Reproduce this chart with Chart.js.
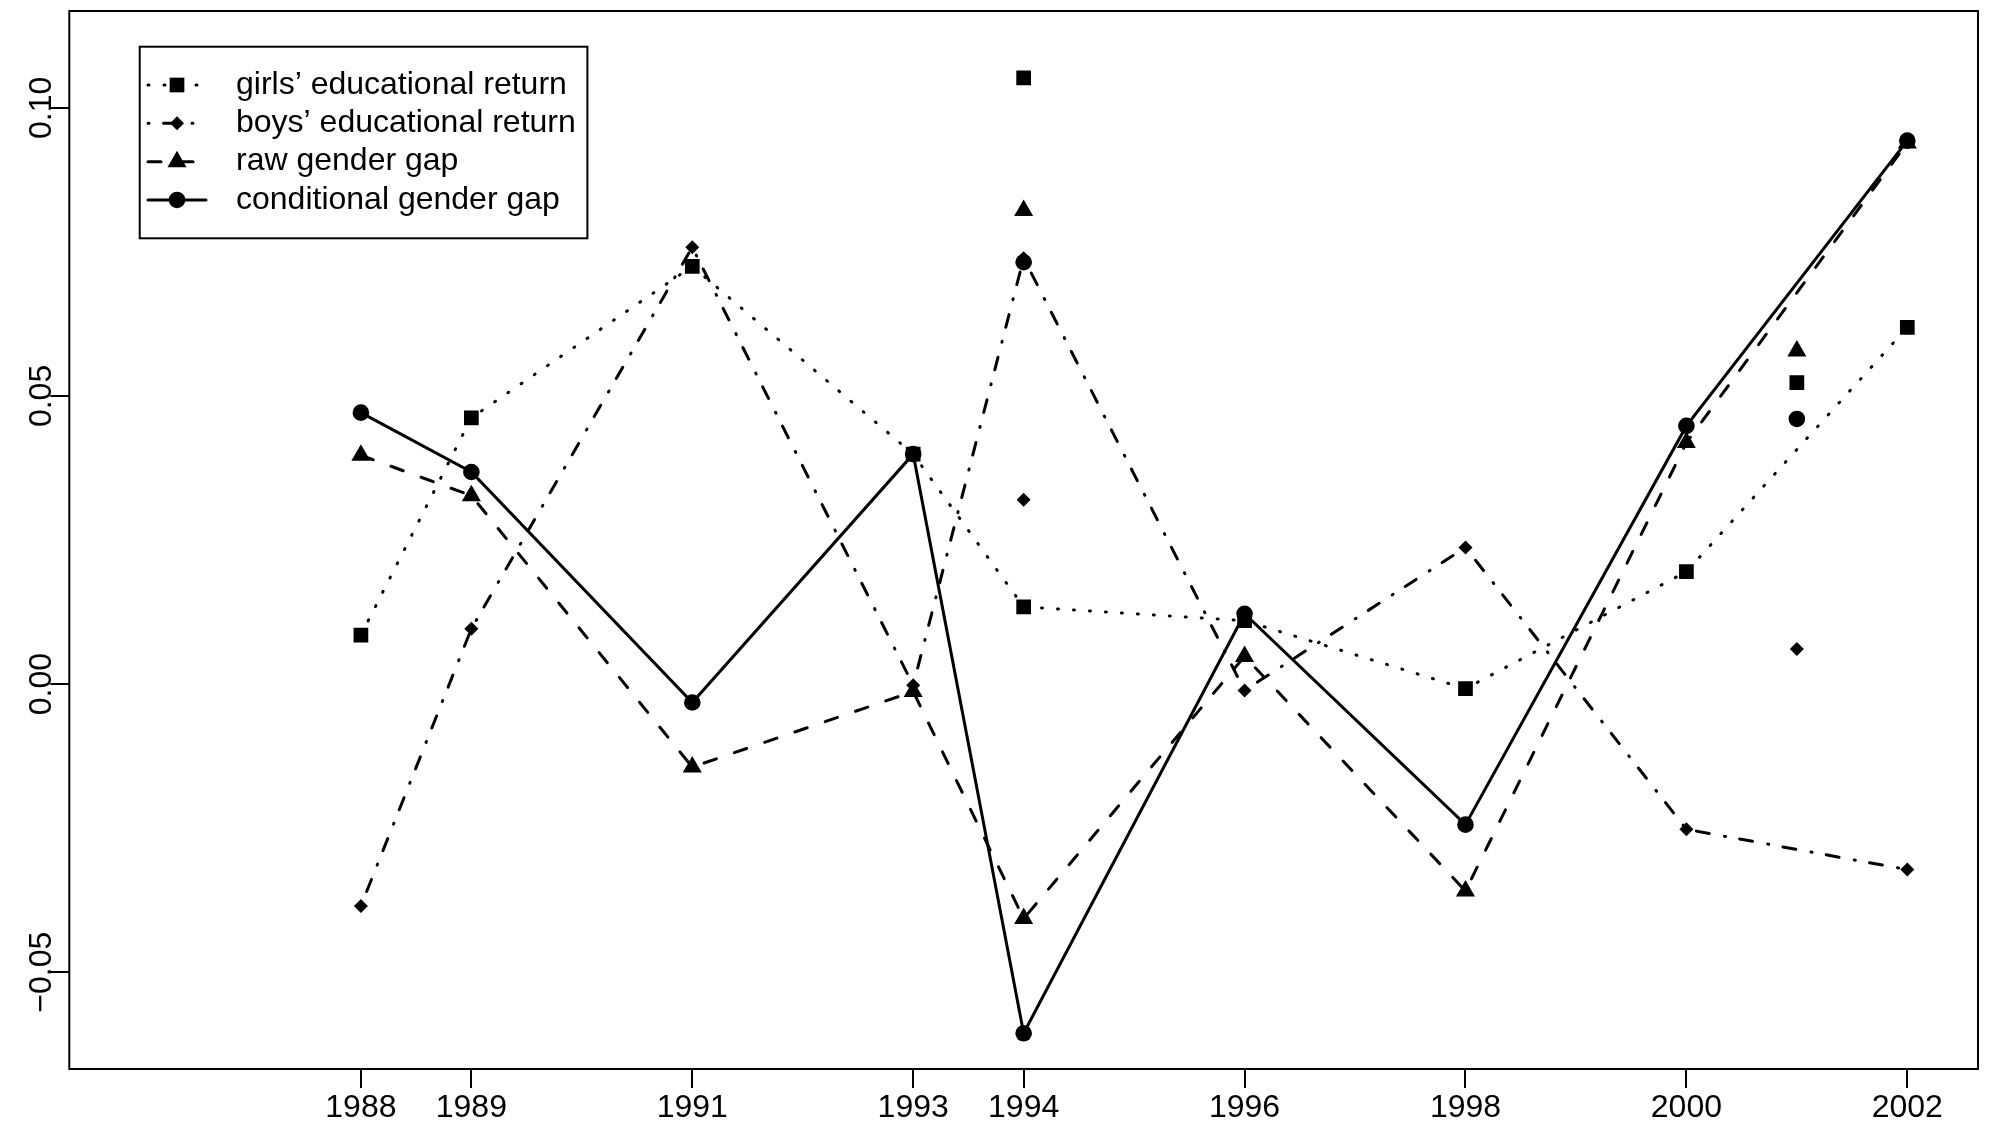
<!DOCTYPE html>
<html>
<head>
<meta charset="utf-8">
<title>Educational returns and gender gap</title>
<script src="https://cdn.jsdelivr.net/npm/chart.js@4.4.1/dist/chart.umd.min.js"></script>
<style>
  html, body { margin: 0; padding: 0; background: #fff; }
  canvas { display: block; }
</style>
</head>
<body>
<canvas id="chart" width="1989" height="1128"></canvas>
<script>
// years joined by the lines, and the years that only get a loose marker
const lineYears = [1988, 1989, 1991, 1993, 1994, 1996, 1998, 2000, 2002];
const extraYears = [1994, 2001];

const girls = [0.0085, 0.0462, 0.0725, 0.0399, 0.0134, 0.0110, -0.0008, 0.0195, 0.0619];
const girlsExtra = [0.1052, 0.0523];
const boys = [-0.0385, 0.0096, 0.0758, -0.0002, 0.0739, -0.0011, 0.0237, -0.0252, -0.0322];
const boysExtra = [0.0320, 0.0061];
const rawGap = [0.0397, 0.0327, -0.0144, -0.0013, -0.0407, 0.0048, -0.0359, 0.0419, 0.0939];
const rawGapExtra = [0.0822, 0.0578];
const condGap = [0.0471, 0.0368, -0.0032, 0.0399, -0.0606, 0.0122, -0.0244, 0.0448, 0.0943];
const condGapExtra = [0.0732, 0.0460];

const seriesNames = ['girls\u2019 educational return', 'boys\u2019 educational return', 'raw gender gap', 'conditional gender gap'];

const xTicks = [1988, 1989, 1991, 1993, 1994, 1996, 1998, 2000, 2002];
const yTicks = [-0.05, 0, 0.05, 0.10];
const yTickLabels = ['\u22120.05', '0.00', '0.05', '0.10'];

const FONT = '"Liberation Sans", Arial, Helvetica, sans-serif';
const FONT_SIZE = 32;

// R line types (dotted, dotdash, dashed, solid) with round caps
const styles = [
    { dash: [1, 15], point: 'rect', radius: 10.4 },
    { dash: [1, 14.5, 13, 15.5], point: 'rectRot', radius: 7 },
    { dash: [13, 19], point: 'triangle', radius: 11 },
    { dash: [], point: 'circle', radius: 8.3 }
];

const lineSeries = [girls, boys, rawGap, condGap];
const extraSeries = [girlsExtra, boysExtra, rawGapExtra, condGapExtra];

const toPoints = (xs, ys) => xs.map((x, i) => ({ x: x, y: ys[i] }));

const datasets = [];
lineSeries.forEach((vals, i) => {
    const s = styles[i];
    datasets.push({
        label: seriesNames[i],
        data: toPoints(lineYears, vals),
        showLine: true,
        borderColor: '#000',
        borderWidth: 3,
        borderDash: s.dash,
        borderCapStyle: 'round',
        tension: 0,
        pointStyle: s.point,
        pointRadius: s.radius,
        pointBackgroundColor: '#000',
        pointBorderWidth: 0
    });
    datasets.push({
        label: seriesNames[i] + ' (extra)',
        data: toPoints(extraYears, extraSeries[i]),
        showLine: false,
        pointStyle: s.point,
        pointRadius: s.radius,
        pointBackgroundColor: '#000',
        pointBorderWidth: 0
    });
});

function drawMarker(ctx, style, r, x, y) {
    ctx.beginPath();
    if (style === 'rect') {
        const s = r * Math.SQRT1_2;
        ctx.rect(x - s, y - s, 2 * s, 2 * s);
    } else if (style === 'rectRot') {
        ctx.moveTo(x, y - r);
        ctx.lineTo(x + r, y);
        ctx.lineTo(x, y + r);
        ctx.lineTo(x - r, y);
        ctx.closePath();
    } else if (style === 'triangle') {
        ctx.moveTo(x, y - r);
        ctx.lineTo(x + r * 0.866, y + r * 0.5);
        ctx.lineTo(x - r * 0.866, y + r * 0.5);
        ctx.closePath();
    } else {
        ctx.arc(x, y, r, 0, Math.PI * 2);
    }
    ctx.fill();
}

// box, rotated y labels and the legend, drawn the way base R does
const rPlotExtras = {
    id: 'rPlotExtras',
    afterDraw(chart) {
        const { ctx, chartArea: a, scales: { y } } = chart;
        ctx.save();
        ctx.strokeStyle = '#000';
        ctx.fillStyle = '#000';
        ctx.lineWidth = 2;
        ctx.setLineDash([]);
        ctx.strokeRect(a.left, a.top, a.right - a.left, a.bottom - a.top);

        ctx.font = FONT_SIZE + 'px ' + FONT;
        ctx.textAlign = 'center';
        ctx.textBaseline = 'alphabetic';
        yTicks.forEach((v, i) => {
            ctx.save();
            ctx.translate(a.left - 18, y.getPixelForValue(v));
            ctx.rotate(-Math.PI / 2);
            ctx.fillText(yTickLabels[i], 0, 0);
            ctx.restore();
        });

        // legend
        const lx = 139.7, ly = 46.7, lw = 447.7, lh = 191.6;
        ctx.lineWidth = 2;
        ctx.strokeRect(lx, ly, lw, lh);
        ctx.textAlign = 'left';
        ctx.textBaseline = 'middle';
        seriesNames.forEach((name, i) => {
            const s = styles[i];
            const ry = 85 + i * 38.33;
            ctx.lineWidth = 3;
            ctx.lineCap = 'round';
            ctx.setLineDash(s.dash);
            ctx.beginPath();
            ctx.moveTo(148, ry);
            ctx.lineTo(206, ry);
            ctx.stroke();
            ctx.setLineDash([]);
            drawMarker(ctx, s.point, s.radius, 177, ry);
            ctx.fillText(name, 236, ry);
        });
        ctx.restore();
    }
};

const gridOpts = {
    display: true,
    drawOnChartArea: false,
    drawTicks: true,
    tickLength: 19,
    tickColor: '#000',
    tickWidth: 2,
    color: '#000',
    lineWidth: 2
};

new Chart(document.getElementById('chart'), {
    type: 'scatter',
    data: { datasets: datasets },
    options: {
        responsive: false,
        animation: false,
        devicePixelRatio: 1,
        events: [],
        layout: { padding: { top: 7, right: 8, left: 0, bottom: 0 } },
        plugins: {
            legend: { display: false },
            tooltip: { enabled: false },
            title: { display: false }
        },
        scales: {
            x: {
                type: 'linear',
                min: 1985.36,
                max: 2002.64,
                grid: gridOpts,
                border: { display: false },
                afterBuildTicks: (scale) => { scale.ticks = xTicks.map(v => ({ value: v })); },
                afterFit: (scale) => { scale.height = 59; },
                ticks: {
                    color: '#000',
                    padding: 1,
                    maxRotation: 0,
                    autoSkip: false,
                    font: { family: FONT, size: FONT_SIZE },
                    callback: (v) => String(v)
                }
            },
            y: {
                type: 'linear',
                min: -0.0668,
                max: 0.1168,
                grid: gridOpts,
                border: { display: false },
                afterBuildTicks: (scale) => { scale.ticks = yTicks.map(v => ({ value: v })); },
                afterFit: (scale) => { scale.width = 69.3; },
                ticks: { display: false }
            }
        }
    },
    plugins: [rPlotExtras]
});
</script>
</body>
</html>
